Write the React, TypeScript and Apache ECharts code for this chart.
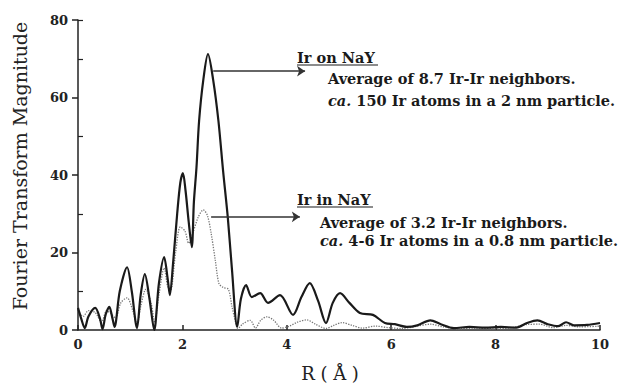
import React, { useEffect, useRef } from "react";
import * as echarts from "echarts";

// Ir on NaY (solid) : [R (Å), magnitude]
const irOnNaY: [number, number][] = [
  [0.0, 5.7], [0.06, 3.0], [0.13, 0.5], [0.2, 3.5], [0.33, 5.7], [0.42, 3.0], [0.47, 0.2],
  [0.53, 4.0], [0.6, 6.0], [0.66, 3.0], [0.7, 0.8], [0.8, 10], [0.94, 16.2], [1.03, 10],
  [1.13, 0.5], [1.2, 9], [1.28, 14.4], [1.37, 8], [1.46, 0.0], [1.55, 12], [1.65, 18.8],
  [1.72, 13], [1.76, 9.0], [1.82, 17], [1.9, 30], [1.96, 38], [2.01, 40.5], [2.06, 36],
  [2.12, 28], [2.18, 21.4], [2.22, 33], [2.27, 42], [2.32, 54], [2.4, 64.5], [2.49, 71.2],
  [2.59, 64.5], [2.69, 54], [2.78, 41], [2.87, 29], [2.95, 15.5], [3.05, 0.8], [3.12, 8],
  [3.22, 11.6], [3.33, 8.5], [3.49, 9.5], [3.64, 7.0], [3.87, 9.0], [4.12, 3.9], [4.28, 8.5],
  [4.44, 12.1], [4.6, 7.5], [4.75, 1.8], [4.88, 7], [5.02, 9.5], [5.2, 7], [5.4, 4.4],
  [5.65, 3.9], [5.88, 1.8], [6.07, 1.5], [6.3, 0.8], [6.5, 1.2], [6.75, 2.5], [6.95, 1.5],
  [7.2, 0.5], [7.5, 0.8], [7.8, 0.6], [8.1, 0.8], [8.4, 0.6], [8.6, 1.8], [8.8, 2.5],
  [9.0, 1.5], [9.2, 1.0], [9.35, 2.0], [9.5, 1.2], [9.75, 1.3], [10.0, 1.8],
];

// Ir in NaY (dotted)
const irInNaY: [number, number][] = [
  [0.0, 5], [0.1, 3.5], [0.2, 5], [0.33, 4.5], [0.45, 2], [0.55, 5], [0.65, 4], [0.72, 3],
  [0.82, 7], [0.94, 8.3], [1.05, 5], [1.13, 1.5], [1.2, 6], [1.3, 10.5], [1.4, 7], [1.47, 2],
  [1.55, 9], [1.65, 16], [1.72, 11], [1.77, 10], [1.87, 20], [1.96, 26.6], [2.05, 25.5],
  [2.12, 22.4], [2.2, 25], [2.3, 29], [2.4, 31], [2.48, 29.5], [2.55, 25], [2.63, 18],
  [2.7, 12], [2.78, 11], [2.88, 10.5], [2.95, 6], [3.02, 2], [3.06, 0.3], [3.15, 1.5],
  [3.3, 2.5], [3.4, 0.5], [3.5, 2.5], [3.62, 3.4], [3.75, 2.5], [3.9, 0.5], [4.05, 1],
  [4.2, 2], [4.38, 2.6], [4.55, 1.5], [4.75, 0.4], [4.9, 1.2], [5.06, 1.9], [5.25, 1.2],
  [5.45, 0.5], [5.7, 1.0], [5.95, 0.6], [6.2, 0.4], [6.5, 1], [6.75, 1.5], [7.0, 0.8],
  [7.3, 0.3], [7.6, 0.5], [8.0, 0.3], [8.3, 0.6], [8.6, 1.4], [8.85, 1.5], [9.1, 0.6],
  [9.35, 1.2], [9.6, 0.8], [10.0, 1.0],
];

const xTicks = [0, 2, 4, 6, 8, 10];
const yTicks = [0, 20, 40, 60, 80];
const yMinorTicks = [10, 30, 50, 70, 80];

// arrows [x0, x1, y]
const arrowOn = [2.59, 4.35, 66.8];
const arrowIn = [2.55, 4.25, 29.2];

const serif = "'DejaVu Serif', 'Liberation Serif', serif";

export default function App() {
  const ref = useRef<HTMLDivElement>(null);
  useEffect(() => {
    if (!ref.current) return;
    const chart = echarts.init(ref.current, null, { renderer: "svg" });
    const labelStyle = { fontFamily: serif, fontWeight: "bold" as const, fontSize: 13, color: "#222" };
    const annot = (x: number, y: number, text: string, extra: any = {}) => ({
      type: "text",
      x,
      y,
      style: {
        text,
        font: `bold 14.5px ${serif}`,
        fill: "#1a1a1a",
        verticalAlign: "middle",
        rich: { i: { fontStyle: "italic", fontWeight: "bold", fontSize: 14.5, fontFamily: serif, fill: "#1a1a1a" } },
        ...extra,
      },
    });
    chart.setOption({
      animation: false,
      backgroundColor: "#fff",
      grid: { left: 78, right: 18, top: 20, bottom: 56 },
      xAxis: {
        type: "value",
        min: 0,
        max: 10,
        interval: 2,
        axisLine: { lineStyle: { color: "#222", width: 1.5 } },
        axisTick: { inside: true, length: 5, lineStyle: { color: "#222", width: 1.5 }, customValues: xTicks },
        axisLabel: { ...labelStyle, margin: 8, customValues: xTicks },
        splitLine: { show: false },
      },
      yAxis: [
        {
          type: "value",
          min: 0,
          max: 80,
          interval: 20,
          axisLine: { show: true, lineStyle: { color: "#222", width: 1.5 } },
          axisTick: { show: true, inside: false, length: 6, lineStyle: { color: "#222", width: 1.5 }, customValues: yTicks },
          axisLabel: { ...labelStyle, margin: 10, customValues: yTicks },
          splitLine: { show: false },
        },
        {
          type: "value",
          min: 0,
          max: 80,
          interval: 10,
          position: "left",
          axisLine: { show: false },
          axisTick: { show: true, inside: true, length: 5, lineStyle: { color: "#222", width: 1.2 }, customValues: yMinorTicks },
          axisLabel: { show: false },
          splitLine: { show: false },
        },
      ],
      series: [
        {
          name: "Ir in NaY",
          type: "line",
          data: irInNaY,
          showSymbol: false,
          smooth: 0.3,
          lineStyle: { color: "#777", width: 1.3, type: "dotted" },
          z: 2,
        },
        {
          name: "Ir on NaY",
          type: "line",
          data: irOnNaY,
          showSymbol: false,
          smooth: 0.3,
          lineStyle: { color: "#1a1a1a", width: 2.2 },
          z: 3,
          markLine: {
            silent: true,
            symbol: ["none", "arrow"],
            symbolSize: 8,
            label: { show: false },
            lineStyle: { color: "#333", width: 1.5, type: "solid" },
            data: [
              [{ coord: [arrowOn[0], arrowOn[2]] }, { coord: [arrowOn[1], arrowOn[2]] }],
              [{ coord: [arrowIn[0], arrowIn[2]] }, { coord: [arrowIn[1], arrowIn[2]] }],
            ],
          },
        },
      ],
      graphic: [
        {
          type: "text",
          x: 20,
          y: 166,
          rotation: Math.PI / 2,
          style: { text: "Fourier Transform Magnitude", font: `19px ${serif}`, fill: "#222", align: "center", verticalAlign: "middle" },
        },
        {
          type: "text",
          x: 330,
          y: 373,
          style: { text: "R ( Å )", font: `18px ${serif}`, fill: "#222", align: "center", verticalAlign: "middle" },
        },
        annot(297, 57, "Ir on NaY"),
        { type: "line", shape: { x1: 297, y1: 65, x2: 378, y2: 65 }, style: { stroke: "#1a1a1a", lineWidth: 1.2 } },
        annot(328, 78, "Average of 8.7 Ir-Ir neighbors."),
        annot(328, 100, "{i|ca.} 150 Ir atoms in a 2 nm particle."),
        annot(297, 199, "Ir in NaY"),
        { type: "line", shape: { x1: 297, y1: 207, x2: 373, y2: 207 }, style: { stroke: "#1a1a1a", lineWidth: 1.2 } },
        annot(320, 222, "Average of 3.2 Ir-Ir neighbors."),
        annot(320, 240, "{i|ca.} 4-6 Ir atoms in a 0.8 nm particle."),
      ],
    });
    return () => chart.dispose();
  }, []);
  return <div ref={ref} style={{ width: 618, height: 386, position: "absolute", left: 0, top: 0 }} />;
}
